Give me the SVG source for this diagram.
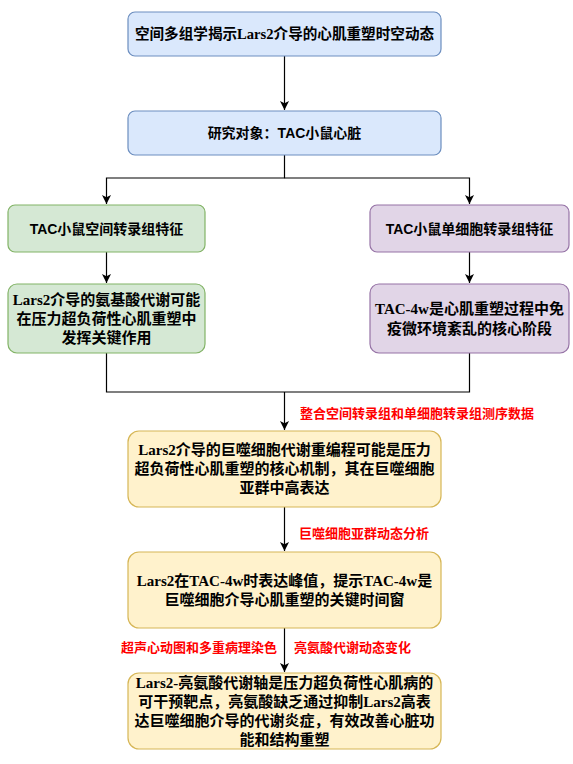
<svg xmlns="http://www.w3.org/2000/svg" width="573" height="764" viewBox="0 0 573 764">
<defs>
<style>
.box{stroke-width:1.2}
.blue{fill:#dae8fc;stroke:#6c8ebf}
.green{fill:#d5e8d4;stroke:#82b366}
.purple{fill:#e1d5e7;stroke:#9673a6}
.yellow{fill:#fff2cc;stroke:#d6b656}
.t{font-weight:bold;fill:#000;text-anchor:middle;dominant-baseline:central}
.serif{font-family:"Liberation Serif","Noto Sans CJK SC",serif}
.sans{font-family:"Liberation Sans","Noto Sans CJK SC",sans-serif}
.s14{font-size:14px}
.s145{font-size:14.6px}
.s15{font-size:15px}
.lbl{font-family:"Liberation Sans","Noto Sans CJK SC",sans-serif;font-size:13px;font-weight:bold;fill:#ff0000;dominant-baseline:central}
.edge{fill:none;stroke:#000;stroke-width:1.2}
</style>
<marker id="arr" markerWidth="10" markerHeight="10" refX="9" refY="5" orient="auto" markerUnits="userSpaceOnUse">
<path d="M0,0.5 L9,5 L0,9.5 L2.2,5 Z" fill="#000"/>
</marker>
</defs>
<rect width="573" height="764" fill="#fff"/>

<g id="connectors">
<path class="edge" d="M284.5,56 V110" marker-end="url(#arr)"/>
<path class="edge" d="M284.5,155 V178 H106.5 V204" marker-end="url(#arr)"/>
<path class="edge" d="M284.5,178 H469.5 V204" marker-end="url(#arr)"/>
<path class="edge" d="M106.5,252 V283" marker-end="url(#arr)"/>
<path class="edge" d="M469.5,252 V283" marker-end="url(#arr)"/>
<path class="edge" d="M106.5,353 V392 H469.5 V353"/>
<path class="edge" d="M284.5,392 V430" marker-end="url(#arr)"/>
<path class="edge" d="M284.5,507 V551" marker-end="url(#arr)"/>
<path class="edge" d="M284.5,628 V672" marker-end="url(#arr)"/>
<text class="lbl" x="300" y="413">整合空间转录组和单细胞转录组测序数据</text>
<text class="lbl" x="299" y="533">巨噬细胞亚群动态分析</text>
<text class="lbl" x="277" y="647" text-anchor="end">超声心动图和多重病理染色</text>
<text class="lbl" x="294" y="647">亮氨酸代谢动态变化</text>
</g>

<g id="n1">
<rect class="box blue" x="128" y="12" width="313" height="44" rx="7"/>
<text class="t serif s145" x="284.5" y="34">空间多组学揭示Lars2介导的心肌重塑时空动态</text>
</g>

<g id="n2">
<rect class="box blue" x="128" y="111" width="313" height="44" rx="7"/>
<text class="t sans s14" x="284.5" y="133">研究对象：TAC小鼠心脏</text>
</g>

<g id="n3">
<rect class="box green" x="8" y="205" width="197" height="47" rx="7"/>
<text class="t sans s14" x="106.5" y="228.5">TAC小鼠空间转录组特征</text>
</g>

<g id="n4">
<rect class="box purple" x="370" y="205" width="199" height="47" rx="7"/>
<text class="t sans s14" x="469.5" y="228.5">TAC小鼠单细胞转录组特征</text>
</g>

<g id="n5">
<rect class="box green" x="8" y="284" width="197" height="69" rx="9"/>
<text class="t serif s15" x="106.5" y="300">Lars2介导的氨基酸代谢可能</text>
<text class="t serif s15" x="106.5" y="319">在压力超负荷性心肌重塑中</text>
<text class="t serif s15" x="106.5" y="338">发挥关键作用</text>
</g>

<g id="n6">
<rect class="box purple" x="370" y="284" width="199" height="69" rx="9"/>
<text class="t serif s15" x="469.5" y="309">TAC-4w是心肌重塑过程中免</text>
<text class="t serif s15" x="469.5" y="329">疫微环境紊乱的核心阶段</text>
</g>

<g id="n7">
<rect class="box yellow" x="128" y="431" width="313" height="76" rx="11"/>
<text class="t serif s15" x="284.5" y="450">Lars2介导的巨噬细胞代谢重编程可能是压力</text>
<text class="t serif s15" x="284.5" y="469">超负荷性心肌重塑的核心机制，其在巨噬细胞</text>
<text class="t serif s15" x="284.5" y="488">亚群中高表达</text>
</g>

<g id="n8">
<rect class="box yellow" x="128" y="552" width="313" height="76" rx="11"/>
<text class="t serif s15" x="284.5" y="580.5">Lars2在TAC-4w时表达峰值，提示TAC-4w是</text>
<text class="t serif s15" x="284.5" y="600">巨噬细胞介导心肌重塑的关键时间窗</text>
</g>

<g id="n9">
<rect class="box yellow" x="128" y="673" width="313" height="76" rx="11"/>
<text class="t serif s15" x="284.5" y="683">Lars2-亮氨酸代谢轴是压力超负荷性心肌病的</text>
<text class="t serif s15" x="284.5" y="702">可干预靶点，亮氨酸缺乏通过抑制Lars2高表</text>
<text class="t serif s15" x="284.5" y="721">达巨噬细胞介导的代谢炎症，有效改善心脏功</text>
<text class="t serif s15" x="284.5" y="740">能和结构重塑</text>
</g>
</svg>
